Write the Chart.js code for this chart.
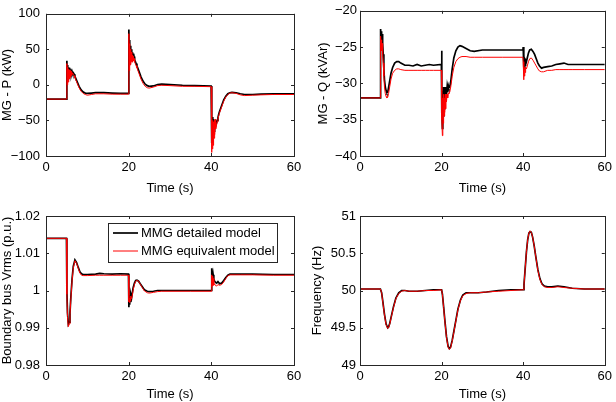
<!DOCTYPE html>
<html>
<head>
<meta charset="utf-8">
<script src="https://cdn.jsdelivr.net/npm/chart.js@4.4.1/dist/chart.umd.min.js"></script>
<style>
  body { margin: 0; background: #fff; }
  #wrap { position: relative; width: 616px; height: 402px; }
  canvas { position: absolute; }
</style>
</head>
<body>
<div id="wrap">
  <canvas id="chartP" width="308" height="201" style="left:0;top:0"></canvas>
  <canvas id="chartQ" width="308" height="201" style="left:308px;top:0"></canvas>
  <canvas id="chartV" width="308" height="201" style="left:0;top:201px"></canvas>
  <canvas id="chartF" width="308" height="201" style="left:308px;top:201px"></canvas>
</div>
<script>
// shared
var timeTicks = [0, 20, 40, 60];
var timeTickLabels = ['0', '20', '40', '60'];
var legendLabels = ['MMG detailed model', 'MMG equivalent model'];

// MG - P (kW)
var pTime = [0, 4.95, 5.05, 5.15, 5.25, 5.35, 5.45, 5.55, 5.65, 5.75, 5.85, 5.95, 6.05, 6.15, 6.3, 6.45, 6.6, 6.8, 7, 7.5, 8, 8.5, 9, 9.5, 10, 11, 12, 14, 16, 18, 19.95,
  20.05, 20.15, 20.25, 20.35, 20.45, 20.55, 20.65, 20.75, 20.85, 20.95, 21.05, 21.15, 21.3, 21.45, 21.6, 21.8, 22, 22.5, 23, 23.5, 24, 24.5, 25, 26, 27, 28, 30, 33, 36, 39.95,
  40.05, 40.15, 40.25, 40.35, 40.45, 40.55, 40.65, 40.75, 40.85, 40.95, 41.05, 41.2, 41.4, 41.6, 41.8, 42, 42.5, 43, 43.5, 44, 44.5, 45, 46, 47, 48, 50, 52, 55, 60];
var pDetailed = [-20, -20, 34, 6, 28, 9, 25, 12, 24, 12, 22, 14, 21, 15, 19, 16, 17, 15, 12, 5, -2, -7, -10, -11.5, -12, -11.5, -11, -11, -11.5, -12, -12,
  78, 30, 63, 34, 55, 36, 50, 38, 46, 36, 44, 38, 40, 35, 33, 30, 27, 19, 11, 5, 1, -1, -2, -1.5, 0.5, 1, 0.5, -0.5, -1, -1.5,
  -82, -50, -80, -45, -70, -48, -65, -52, -60, -50, -58, -55, -50, -46, -41, -37, -29, -21, -16, -12.5, -11, -10.5, -11, -12.5, -13.5, -13.5, -13, -12.5, -12.5];
var pEquivalent = [-20, -20, 30, 0, 25, 4, 22, 8, 21, 9, 20, 11, 19, 13, 17, 15, 15, 13, 10, 3, -4, -9, -12, -13.5, -14.5, -13.5, -12.5, -12.5, -13, -13, -13,
  72, 20, 58, 28, 50, 30, 46, 33, 42, 32, 40, 34, 37, 32, 30, 27, 24, 16, 8, 2, -2, -4, -4.5, -3, -1, -0.5, -1, -2, -2, -2.5,
  -95, -55, -90, -50, -85, -52, -75, -50, -70, -48, -62, -58, -52, -48, -43, -39, -31, -23, -17, -13.5, -11.5, -11, -12, -14, -15, -14.5, -14, -13.5, -13.5];
var pTicks = [-100, -50, 0, 50, 100];
var pTickLabels = ['\u2212100', '\u221250', '0', '50', '100'];

// MG - Q (kVAr)
var qTime = [0, 4.95, 5.05, 5.15, 5.25, 5.35, 5.45, 5.55, 5.7, 5.85, 6.0, 6.2, 6.4, 6.6, 6.8, 7.0, 7.3, 7.6, 8, 8.5, 9, 9.5, 10, 11, 12, 13, 14, 15, 16, 17, 18, 19.95,
  20.0, 20.1, 20.2, 20.3, 20.4, 20.5, 20.6, 20.7, 20.8, 20.9, 21.0, 21.1, 21.2, 21.35, 21.5, 21.65, 21.8, 22, 22.3, 22.6, 23, 23.5, 24, 24.5, 25, 26, 27, 28, 30, 35, 39.95,
  40.0, 40.1, 40.2, 40.3, 40.4, 40.5, 40.6, 40.8, 41, 41.3, 41.6, 42, 42.4, 42.8, 43.2, 43.6, 44, 44.5, 45, 46, 47, 48, 49, 50, 51, 52, 55, 60];
var qDetailed = [-32, -32, -22.5, -23.5, -22.8, -23.8, -23.2, -24.5, -26, -28, -29.5, -30.5, -31, -31.3, -31.2, -30.6, -29.6, -28.6, -27.8, -27.2, -27, -27, -27.2, -27.5, -27.5, -27.6, -27.4, -27.6, -27.5, -27.4, -27.5, -27.4,
  -25.5, -34, -36.2, -31, -34.5, -30.5, -33.5, -31, -33, -30.5, -32.5, -30.5, -31.5, -30.5, -31.2, -30.3, -30.6, -30.5, -29.5, -28, -26.5, -25.5, -25, -24.8, -24.9, -25.2, -25.5, -25.6, -25.4, -25.4, -25.4,
  -25, -27.8, -26, -28, -26.5, -27.5, -26.8, -27, -26.5, -25.8, -25.4, -25.3, -25.6, -26, -26.6, -27.2, -27.6, -27.9, -27.8, -27.7, -27.6, -27.4, -27.3, -27.2, -27.4, -27.4, -27.4, -27.4];
var qEquivalent = [-32, -32, -23.5, -25, -24, -25.5, -24.5, -26, -27.2, -29, -30.5, -31.4, -31.8, -32, -31.9, -31.4, -30.4, -29.4, -28.6, -28.2, -28, -28, -28.1, -28.2, -28.2, -28.2, -28.2, -28.2, -28.2, -28.2, -28.2, -28.2,
  -28.5, -35, -37.2, -32, -35.5, -31.5, -34.5, -32, -34, -31.5, -33.5, -31.5, -32.5, -31.5, -32, -31.3, -31.4, -31.2, -30.3, -29, -27.8, -27, -26.6, -26.4, -26.3, -26.3, -26.4, -26.4, -26.4, -26.4, -26.4,
  -27, -29.5, -27.5, -29, -27.8, -28.5, -27.8, -28, -27.6, -27, -26.6, -26.5, -26.8, -27.2, -27.6, -28, -28.3, -28.4, -28.4, -28.2, -28.2, -28.1, -28.1, -28.1, -28.1, -28.1, -28.1, -28.1];
var qTicks = [-40, -35, -30, -25, -20];
var qTickLabels = ['\u221240', '\u221235', '\u221230', '\u221225', '\u221220'];

// Boundary bus Vrms (p.u.)
var vTime = [0, 4.95, 5.05, 5.2, 5.4, 5.6, 5.8, 6.0, 6.3, 6.6, 7.0, 7.4, 7.8, 8.2, 8.6, 9, 10, 12, 13, 14, 16, 18, 19.95,
  20.05, 20.15, 20.25, 20.35, 20.45, 20.55, 20.7, 20.9, 21.1, 21.4, 21.7, 22, 22.4, 22.8, 23.3, 23.8, 24.5, 25, 26, 27, 28, 30, 35, 39.95,
  40.05, 40.15, 40.25, 40.35, 40.45, 40.6, 40.8, 41, 41.3, 41.6, 42, 42.5, 43, 43.5, 44, 44.5, 45, 47, 50, 55, 60];
var vDetailed = [1.014, 1.014, 1.0, 0.994, 0.991, 0.9915, 0.994, 0.998, 1.003, 1.0065, 1.0082, 1.0075, 1.0062, 1.005, 1.0045, 1.0043, 1.0043, 1.0044, 1.0046, 1.0045, 1.0044, 1.0045, 1.0044,
  0.9955, 0.9985, 0.9962, 0.9988, 0.997, 0.999, 0.998, 0.9995, 1.0008, 1.002, 1.0027, 1.0028, 1.0025, 1.0018, 1.001, 1.0002, 0.9998, 0.9997, 0.9998, 1.0, 1.0, 1.0, 1.0, 1.0,
  1.006, 1.0025, 1.005, 1.0028, 1.0042, 1.003, 1.0025, 1.0022, 1.002, 1.0024, 1.0018, 1.002, 1.0027, 1.0035, 1.0041, 1.0044, 1.0044, 1.0044, 1.0044, 1.0043, 1.0043];
var vEquivalent = [1.014, 1.014, 0.999, 0.993, 0.9903, 0.991, 0.9935, 0.9975, 1.0025, 1.006, 1.008, 1.0073, 1.006, 1.0047, 1.0041, 1.004, 1.004, 1.0041, 1.0041, 1.0041, 1.0041, 1.0041, 1.0041,
  0.997, 0.9972, 0.9968, 0.998, 0.9972, 0.9985, 0.9978, 0.9988, 1.0002, 1.0016, 1.0025, 1.0027, 1.0025, 1.0017, 1.0008, 0.9999, 0.9994, 0.9993, 0.9995, 0.9997, 0.9998, 0.9998, 0.9998, 0.9998,
  1.0042, 1.001, 1.0038, 1.0012, 1.0032, 1.0015, 1.0018, 1.0013, 1.0012, 1.0016, 1.0014, 1.0016, 1.0023, 1.0032, 1.004, 1.0042, 1.0042, 1.0042, 1.0042, 1.0041, 1.0041];
var vTicks = [0.98, 0.99, 1, 1.01, 1.02];
var vTickLabels = ['0.98', '0.99', '1', '1.01', '1.02'];

// Frequency (Hz)
var fTime = [0, 5, 5.3, 5.6, 6, 6.4, 6.8, 7, 7.3, 7.7, 8.2, 8.8, 9.5, 10.2, 11, 12, 14, 16, 18, 20,
  20.2, 20.5, 20.8, 21.2, 21.6, 21.9, 22.2, 22.6, 23, 23.5, 24, 24.6, 25.2, 26, 27, 29, 31, 34, 37, 40,
  40.2, 40.5, 40.8, 41.1, 41.4, 41.7, 42, 42.3, 42.7, 43.1, 43.6, 44.1, 44.6, 45.2, 46, 47, 48.5, 50, 52, 55, 60];
var fDetailed = [50.02, 50.02, 49.97, 49.85, 49.68, 49.55, 49.5, 49.51, 49.56, 49.66, 49.78, 49.9, 49.97, 50.0, 50.0, 49.99, 49.99, 50.0, 50.01, 50.01,
  49.95, 49.78, 49.6, 49.38, 49.25, 49.22, 49.24, 49.33, 49.45, 49.6, 49.75, 49.87, 49.94, 49.97, 49.97, 49.97, 49.98, 50.0, 50.01, 50.01,
  50.08, 50.3, 50.52, 50.68, 50.77, 50.79, 50.78, 50.72, 50.6, 50.45, 50.28, 50.16, 50.09, 50.06, 50.05, 50.05, 50.06, 50.05, 50.03, 50.02, 50.02];
var fEquivalent = [50.02, 50.02, 49.97, 49.84, 49.67, 49.54, 49.49, 49.5, 49.55, 49.65, 49.77, 49.89, 49.96, 49.99, 50.0, 49.99, 49.99, 50.0, 50.0, 50.01,
  49.95, 49.77, 49.59, 49.37, 49.24, 49.21, 49.23, 49.32, 49.44, 49.59, 49.74, 49.86, 49.93, 49.96, 49.97, 49.97, 49.98, 49.99, 50.0, 50.01,
  50.08, 50.3, 50.52, 50.68, 50.77, 50.8, 50.78, 50.72, 50.6, 50.45, 50.27, 50.15, 50.08, 50.05, 50.04, 50.04, 50.05, 50.04, 50.03, 50.02, 50.02];
var fTicks = [49, 49.5, 50, 50.5, 51];
var fTickLabels = ['49', '49.5', '50', '50.5', '51'];

var fontFamily = '"Liberation Sans", Arial, Helvetica, sans-serif';
var axisColor = '#262626';

function toPoints(t, v) {
  return t.map(function (x, i) { return { x: x, y: v[i] }; });
}

// MATLAB style box with inward ticks on all four sides
var boxTicks = {
  id: 'boxTicks',
  afterDraw: function (chart) {
    var ctx = chart.ctx, a = chart.chartArea, xs = chart.scales.x, ys = chart.scales.y;
    ctx.save();
    ctx.strokeStyle = axisColor;
    ctx.lineWidth = 1;
    ctx.strokeRect(Math.round(a.left) + 0.5, Math.round(a.top) + 0.5, Math.round(a.right - a.left), Math.round(a.bottom - a.top));
    ctx.beginPath();
    xs.ticks.forEach(function (t) {
      var px = Math.round(xs.getPixelForValue(t.value)) + 0.5;
      ctx.moveTo(px, a.bottom); ctx.lineTo(px, a.bottom - 3);
      ctx.moveTo(px, a.top); ctx.lineTo(px, a.top + 3);
    });
    ys.ticks.forEach(function (t) {
      var py = Math.round(ys.getPixelForValue(t.value)) + 0.5;
      ctx.moveTo(a.left, py); ctx.lineTo(a.left + 3, py);
      ctx.moveTo(a.right, py); ctx.lineTo(a.right - 3, py);
    });
    ctx.stroke();
    ctx.restore();
  }
};

var boxLegend = {
  id: 'boxLegend',
  afterDraw: function (chart) {
    var ctx = chart.ctx;
    ctx.save();
    ctx.fillStyle = '#fff';
    ctx.fillRect(108.5, 22.5, 169, 39);
    ctx.strokeStyle = axisColor;
    ctx.lineWidth = 1;
    ctx.strokeRect(108.5, 22.5, 169, 39);
    ctx.font = '13px ' + fontFamily;
    ctx.textBaseline = 'middle';
    ctx.fillStyle = '#000';
    chart.data.datasets.forEach(function (ds, i) {
      var y = 32 + i * 18;
      ctx.strokeStyle = ds.borderColor;
      ctx.lineWidth = ds.borderWidth;
      ctx.beginPath();
      ctx.moveTo(113, y); ctx.lineTo(138, y);
      ctx.stroke();
      ctx.fillText(ds.label, 141, y);
    });
    ctx.restore();
  }
};

function drawPanel(id, time, det, eq, yMin, yMax, yTicks, yLabels, yTitle, s) {
  var font = { family: fontFamily, size: 13 };
  var plugins = [boxTicks];
  if (s.legend) plugins.push(boxLegend);
  return new Chart(document.getElementById(id), {
    type: 'line',
    data: {
      datasets: [{
        label: legendLabels[0],
        data: toPoints(time, det),
        borderColor: '#000000',
        borderWidth: 1.7,
        pointRadius: 0,
        tension: 0,
        order: 1
      }, {
        label: legendLabels[1],
        data: toPoints(time, eq),
        borderColor: '#ff0000',
        borderWidth: 1,
        pointRadius: 0,
        tension: 0,
        order: 0
      }]
    },
    options: {
      responsive: false,
      animation: false,
      layout: { padding: { left: 0, right: s.right, top: s.top, bottom: 0 } },
      plugins: { legend: { display: false }, tooltip: { enabled: false } },
      scales: {
        x: {
          type: 'linear', min: 0, max: 60,
          grid: { display: false, drawTicks: false }, border: { display: false },
          afterBuildTicks: function (sc) { sc.ticks = timeTicks.map(function (v) { return { value: v }; }); },
          afterFit: function (sc) { sc.height = s.xHeight; },
          ticks: {
            padding: 4, color: '#000', font: font, maxRotation: 0, autoSkip: false,
            callback: function (v, i) { return timeTickLabels[i]; }
          },
          title: { display: true, text: 'Time (s)', color: '#000', font: font, padding: { top: 0, bottom: s.xTitlePad } }
        },
        y: {
          type: 'linear', min: yMin, max: yMax,
          grid: { display: false, drawTicks: false }, border: { display: false },
          afterBuildTicks: function (sc) { sc.ticks = yTicks.map(function (v) { return { value: v }; }); },
          afterFit: function (sc) { sc.width = s.yWidth; },
          ticks: {
            padding: s.yTickPad, color: '#000', font: font, autoSkip: false,
            callback: function (v, i) { return yLabels[i]; }
          },
          title: { display: true, text: yTitle, color: '#000', font: font, padding: { top: s.yTitlePad, bottom: 0 } }
        }
      }
    },
    plugins: plugins
  });
}

drawPanel('chartP', pTime, pDetailed, pEquivalent, -100, 100, pTicks, pTickLabels, 'MG - P (kW)',
  { right: 14, top: 7, xHeight: 45, yWidth: 46, xTitlePad: 5, yTitlePad: 0, yTickPad: 6 });
drawPanel('chartQ', qTime, qDetailed, qEquivalent, -40, -20, qTicks, qTickLabels, 'MG - Q (kVAr)',
  { right: 7, top: 7, xHeight: 45, yWidth: 52, xTitlePad: 5, yTitlePad: 8, yTickPad: 3 });
drawPanel('chartV', vTime, vDetailed, vEquivalent, 0.98, 1.02, vTicks, vTickLabels, 'Boundary bus Vrms (p.u.)',
  { right: 14, top: 15, xHeight: 37, yWidth: 46, xTitlePad: 0, yTitlePad: 0, yTickPad: 6, legend: true });
drawPanel('chartF', fTime, fDetailed, fEquivalent, 49, 51, fTicks, fTickLabels, 'Frequency (Hz)',
  { right: 7, top: 15, xHeight: 37, yWidth: 52, xTitlePad: 0, yTitlePad: 2, yTickPad: 4 });
</script>
</body>
</html>
